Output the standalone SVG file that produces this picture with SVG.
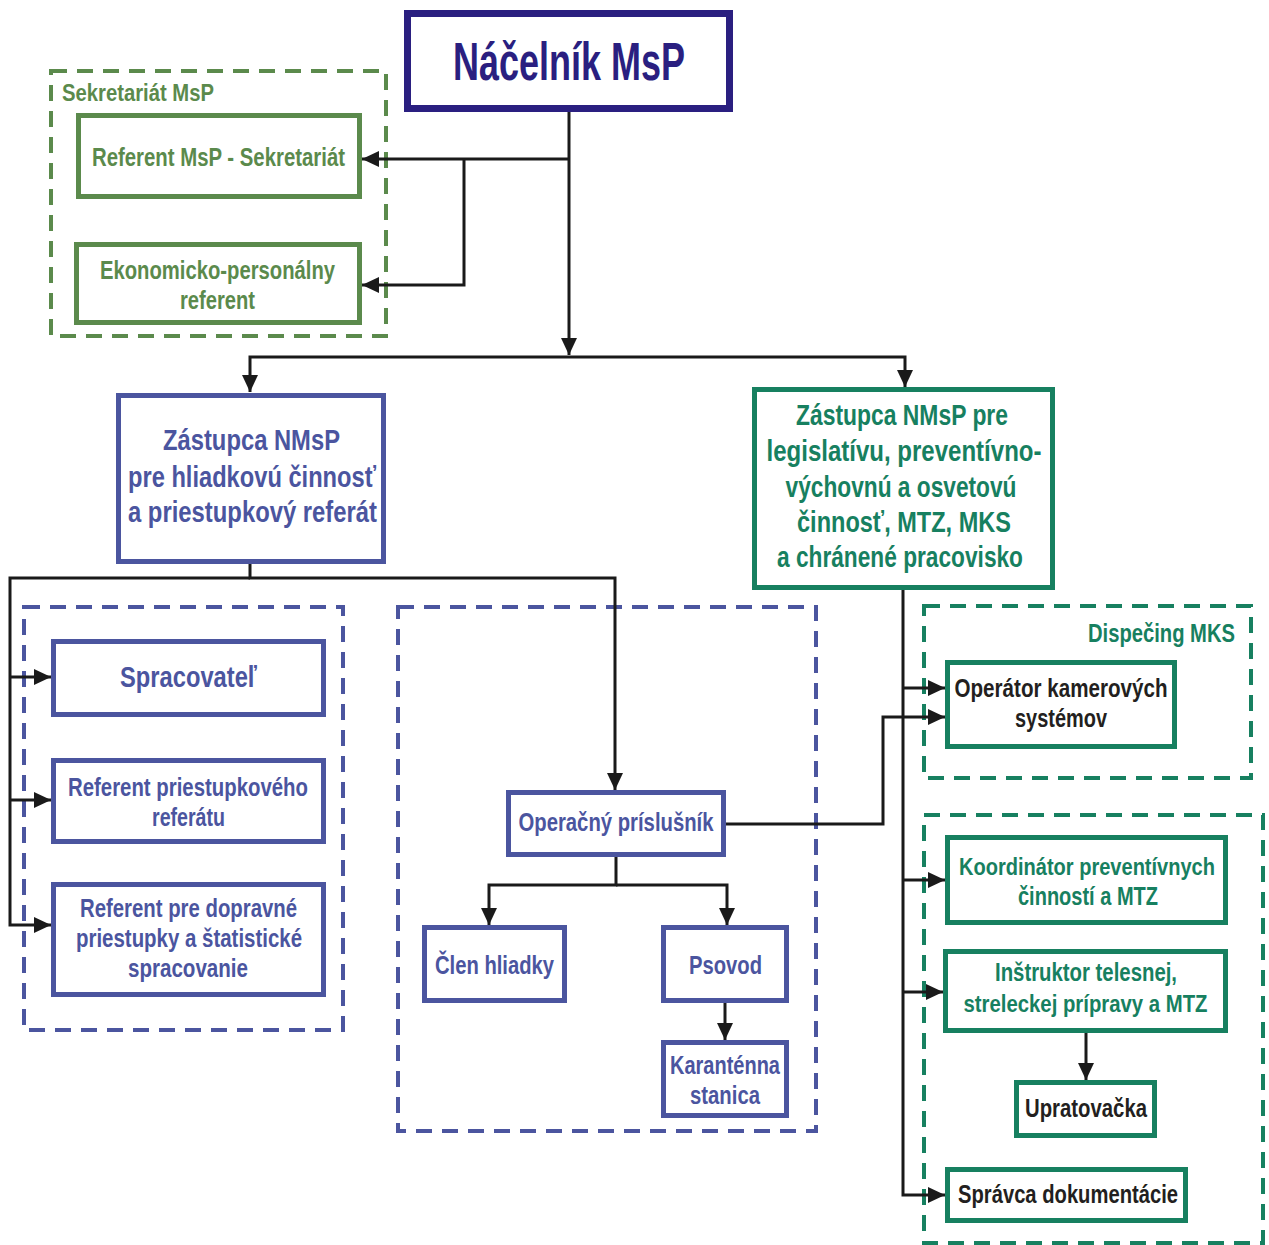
<svg xmlns="http://www.w3.org/2000/svg" width="1269" height="1245" viewBox="0 0 1269 1245">
<style>
text{font-family:"Liberation Sans",Arial,sans-serif;font-weight:bold;text-anchor:middle}
.box{fill:#fff;stroke-width:5}
.navy{stroke:#2a1f80}
.olive{stroke:#5b8a4c}
.blue{stroke:#4b559f}
.teal{stroke:#178060}
.tnavy{fill:#2a1f80}
.tolive{fill:#5b8a4c}
.tblue{fill:#4b559f}
.tteal{fill:#178060}
.tblack{fill:#231f20}
.dash{fill:none;stroke-width:4;stroke-dasharray:16 10}
.conn path{fill:none;stroke:#1a1a1a;stroke-width:3}
.arr{marker-end:url(#ah)}
</style>
<defs>
<marker id="ah" markerUnits="userSpaceOnUse" markerWidth="18" markerHeight="16" refX="17" refY="8" orient="auto">
<path d="M0,0 L17,8 L0,16 Z" fill="#1a1a1a"/>
</marker>
</defs>
<rect width="1269" height="1245" fill="#fff"/>

<!-- dashed groups -->
<g id="grp-sekretariat">
<rect class="dash olive" x="51" y="71" width="335" height="265"/>
<text class="tolive" x="62" y="101" font-size="24" style="text-anchor:start" textLength="152" lengthAdjust="spacingAndGlyphs">Sekretariát MsP</text>
</g>
<g id="grp-left"><rect class="dash blue" x="24" y="607" width="319" height="423"/></g>
<g id="grp-middle"><rect class="dash blue" x="398" y="607" width="418" height="524"/></g>
<g id="grp-dispecing">
<rect class="dash teal" x="924" y="606" width="327" height="172"/>
<text class="tteal" x="1235" y="642" font-size="25" style="text-anchor:end" textLength="147" lengthAdjust="spacingAndGlyphs">Dispečing MKS</text>
</g>
<g id="grp-right"><rect class="dash teal" x="924" y="815" width="339" height="428"/></g>

<!-- connectors -->
<g id="connectors" class="conn">
<path class="arr" d="M569,112 V355"/>
<path class="arr" d="M569,357 H250 V392"/>
<path class="arr" d="M569,357 H905 V387"/>
<path class="arr" d="M569,159 H362"/>
<path class="arr" d="M464,159 V285 H362"/>
<path class="arr" d="M250,564 V578 H615 V790"/>
<path class="arr" d="M250,578 H10 V925 H51"/>
<path class="arr" d="M10,677 H51"/>
<path class="arr" d="M10,800 H51"/>
<path class="arr" d="M616,857 V885 H489 V925"/>
<path class="arr" d="M616,885 H727 V925"/>
<path class="arr" d="M725,1003 V1040"/>
<path class="arr" d="M726,824 H883 V717 H945"/>
<path class="arr" d="M903,590 V1195 H945"/>
<path class="arr" d="M903,688 H945"/>
<path class="arr" d="M903,880 H945"/>
<path class="arr" d="M903,992 H943"/>
<path class="arr" d="M1086,1033 V1080"/>
</g>

<!-- nodes -->
<g id="n-nacelnik">
<rect class="box navy" x="407.5" y="13.5" width="322" height="95" style="stroke-width:7"/>
<text class="tnavy" x="569" y="80" font-size="53" textLength="232" lengthAdjust="spacingAndGlyphs">Náčelník MsP</text>
</g>
<g id="n-ref-sekretariat">
<rect class="box olive" x="78.5" y="115.5" width="281" height="81"/>
<text class="tolive" x="218.5" y="166" font-size="25" textLength="253" lengthAdjust="spacingAndGlyphs">Referent MsP - Sekretariát</text>
</g>
<g id="n-ekonom">
<rect class="box olive" x="76.5" y="244.5" width="283" height="78"/>
<text class="tolive" x="217.5" y="279" font-size="25" textLength="235" lengthAdjust="spacingAndGlyphs">Ekonomicko-personálny</text>
<text class="tolive" x="217.5" y="309" font-size="25" textLength="75" lengthAdjust="spacingAndGlyphs">referent</text>
</g>
<g id="n-zast-left">
<rect class="box blue" x="118.5" y="395.5" width="265" height="166"/>
<text class="tblue" x="251.5" y="450" font-size="29" textLength="177" lengthAdjust="spacingAndGlyphs">Zástupca NMsP</text>
<text class="tblue" x="252" y="487" font-size="29" textLength="248" lengthAdjust="spacingAndGlyphs">pre hliadkovú činnosť</text>
<text class="tblue" x="252.5" y="522" font-size="29" textLength="249" lengthAdjust="spacingAndGlyphs">a priestupkový referát</text>
</g>
<g id="n-zast-right">
<rect class="box teal" x="754.5" y="389.5" width="298" height="198"/>
<text class="tteal" x="902" y="425" font-size="29" textLength="212" lengthAdjust="spacingAndGlyphs">Zástupca NMsP pre</text>
<text class="tteal" x="904" y="461" font-size="29" textLength="275" lengthAdjust="spacingAndGlyphs">legislatívu, preventívno-</text>
<text class="tteal" x="901" y="497" font-size="29" textLength="231" lengthAdjust="spacingAndGlyphs">výchovnú a osvetovú</text>
<text class="tteal" x="904" y="532" font-size="29" textLength="214" lengthAdjust="spacingAndGlyphs">činnosť, MTZ, MKS</text>
<text class="tteal" x="900" y="567" font-size="29" textLength="246" lengthAdjust="spacingAndGlyphs">a chránené pracovisko</text>
</g>
<g id="n-spracovatel">
<rect class="box blue" x="53.5" y="641.5" width="270" height="73"/>
<text class="tblue" x="188.5" y="687" font-size="29" textLength="137" lengthAdjust="spacingAndGlyphs">Spracovateľ</text>
</g>
<g id="n-ref-priest">
<rect class="box blue" x="53.5" y="760.5" width="270" height="81"/>
<text class="tblue" x="188" y="796" font-size="26" textLength="240" lengthAdjust="spacingAndGlyphs">Referent priestupkového</text>
<text class="tblue" x="188.5" y="826" font-size="26" textLength="73" lengthAdjust="spacingAndGlyphs">referátu</text>
</g>
<g id="n-ref-doprav">
<rect class="box blue" x="53.5" y="884.5" width="270" height="110"/>
<text class="tblue" x="188.5" y="917" font-size="26" textLength="217" lengthAdjust="spacingAndGlyphs">Referent pre dopravné</text>
<text class="tblue" x="189" y="947" font-size="26" textLength="226" lengthAdjust="spacingAndGlyphs">priestupky a štatistické</text>
<text class="tblue" x="188" y="977" font-size="26" textLength="120" lengthAdjust="spacingAndGlyphs">spracovanie</text>
</g>
<g id="n-operacny">
<rect class="box blue" x="508.5" y="792.5" width="215" height="62"/>
<text class="tblue" x="616" y="831" font-size="26" textLength="195" lengthAdjust="spacingAndGlyphs">Operačný príslušník</text>
</g>
<g id="n-clen">
<rect class="box blue" x="424.5" y="927.5" width="140" height="73"/>
<text class="tblue" x="494.5" y="974" font-size="26" textLength="119" lengthAdjust="spacingAndGlyphs">Člen hliadky</text>
</g>
<g id="n-psovod">
<rect class="box blue" x="663.5" y="927.5" width="123" height="73"/>
<text class="tblue" x="725.5" y="974" font-size="26" textLength="73" lengthAdjust="spacingAndGlyphs">Psovod</text>
</g>
<g id="n-karantena">
<rect class="box blue" x="663.5" y="1042.5" width="123" height="73"/>
<text class="tblue" x="725" y="1074" font-size="26" textLength="110" lengthAdjust="spacingAndGlyphs">Karanténna</text>
<text class="tblue" x="725" y="1104" font-size="26" textLength="70" lengthAdjust="spacingAndGlyphs">stanica</text>
</g>
<g id="n-operator">
<rect class="box teal" x="947.5" y="662.5" width="227" height="84"/>
<text class="tblack" x="1061" y="697" font-size="26" textLength="213" lengthAdjust="spacingAndGlyphs">Operátor kamerových</text>
<text class="tblack" x="1061" y="727" font-size="26" textLength="92" lengthAdjust="spacingAndGlyphs">systémov</text>
</g>
<g id="n-koordinator">
<rect class="box teal" x="947.5" y="837.5" width="278" height="85"/>
<text class="tteal" x="1087" y="875" font-size="24" textLength="256" lengthAdjust="spacingAndGlyphs">Koordinátor preventívnych</text>
<text class="tteal" x="1088" y="905" font-size="26" textLength="140" lengthAdjust="spacingAndGlyphs">činností a MTZ</text>
</g>
<g id="n-instruktor">
<rect class="box teal" x="945.5" y="951.5" width="280" height="79"/>
<text class="tteal" x="1086" y="981" font-size="26" textLength="182" lengthAdjust="spacingAndGlyphs">Inštruktor telesnej,</text>
<text class="tteal" x="1085.5" y="1012" font-size="24" textLength="244" lengthAdjust="spacingAndGlyphs">streleckej prípravy a MTZ</text>
</g>
<g id="n-upratovacka">
<rect class="box teal" x="1016.5" y="1082.5" width="138" height="53"/>
<text class="tblack" x="1086" y="1117" font-size="26" textLength="122" lengthAdjust="spacingAndGlyphs">Upratovačka</text>
</g>
<g id="n-spravca">
<rect class="box teal" x="947.5" y="1169.5" width="238" height="51"/>
<text class="tblack" x="1068" y="1203" font-size="26" textLength="220" lengthAdjust="spacingAndGlyphs">Správca dokumentácie</text>
</g>
</svg>
